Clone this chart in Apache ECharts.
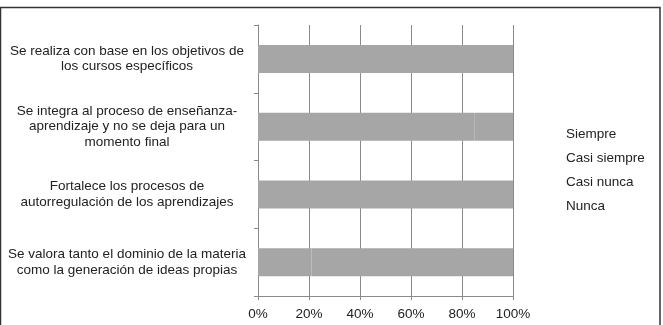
<!DOCTYPE html>
<html>
<head>
<meta charset="utf-8">
<script src="https://cdn.jsdelivr.net/npm/echarts@6/dist/echarts.min.js"></script>
<style>
  html, body { margin: 0; padding: 0; background: #fff; }
  #chart { width: 663px; height: 325px; }
</style>
</head>
<body>
<div id="chart"></div>
<script>
// categorias de abajo hacia arriba (eje de categorias de echarts)
var categorias = [
  'Se valora tanto el dominio de la materia\ncomo la generación de ideas propias',
  'Fortalece los procesos de\nautorregulación de los aprendizajes',
  'Se integra al proceso de enseñanza-\naprendizaje y no se deja para un\nmomento final',
  'Se realiza con base en los objetivos de\nlos cursos específicos'
];
var respuestas = ['Siempre', 'Casi siempre', 'Casi nunca', 'Nunca'];
var siempre = [21, 100, 85, 100];
var casiSiempre = [79, 0, 15, 0];
var casiNunca = [0, 0, 0, 0];
var nunca = [0, 0, 0, 0];
var ticksX = [0, 20, 40, 60, 80, 100];

var valores = [siempre, casiSiempre, casiNunca, nunca];
var gris = '#a6a6a6';
var lineas = '#8a8a8a';
var fuente = 'Liberation Sans, Arial, sans-serif';

var chart = echarts.init(document.getElementById('chart'));
var series = respuestas.map(function (nombre, i) {
  return {
    name: nombre,
    type: 'bar',
    stack: 'total',
    barWidth: 28,
    itemStyle: { color: gris },
    data: valores[i]
  };
});

chart.setOption({
  animation: false,
  textStyle: { fontFamily: fuente },
  graphic: [{
    type: 'rect',
    shape: { x: 0.5, y: 7.5, width: 659.5, height: 330 },
    style: { fill: 'none', stroke: '#333', lineWidth: 1.5 },
    silent: true
  }],
  legend: {
    orient: 'vertical',
    left: 552,
    top: 122,
    itemWidth: 4,
    itemHeight: 14,
    itemGap: 10,
    icon: 'rect',
    itemStyle: { color: 'rgba(0,0,0,0)' },
    textStyle: { fontSize: 13.5, color: '#222', fontFamily: fuente },
    data: respuestas
  },
  grid: { left: 258, right: 150, top: 25, bottom: 29, containLabel: false },
  xAxis: {
    type: 'value',
    min: ticksX[0],
    max: ticksX[ticksX.length - 1],
    interval: 20,
    axisLine: { show: true, lineStyle: { color: lineas } },
    axisTick: { show: true, length: 4, lineStyle: { color: lineas } },
    splitLine: { show: true, lineStyle: { color: lineas, width: 1 } },
    axisLabel: { formatter: '{value}%', fontSize: 13.5, color: '#222', margin: 11, fontFamily: fuente }
  },
  yAxis: {
    type: 'category',
    data: categorias,
    axisLine: { show: true, lineStyle: { color: lineas } },
    axisTick: { show: true, length: 4, lineStyle: { color: lineas } },
    axisLabel: {
      fontSize: 13.5,
      color: '#222',
      align: 'center',
      margin: 131,
      lineHeight: 15.5,
      fontFamily: fuente
    }
  },
  series: series
});
</script>
</body>
</html>
